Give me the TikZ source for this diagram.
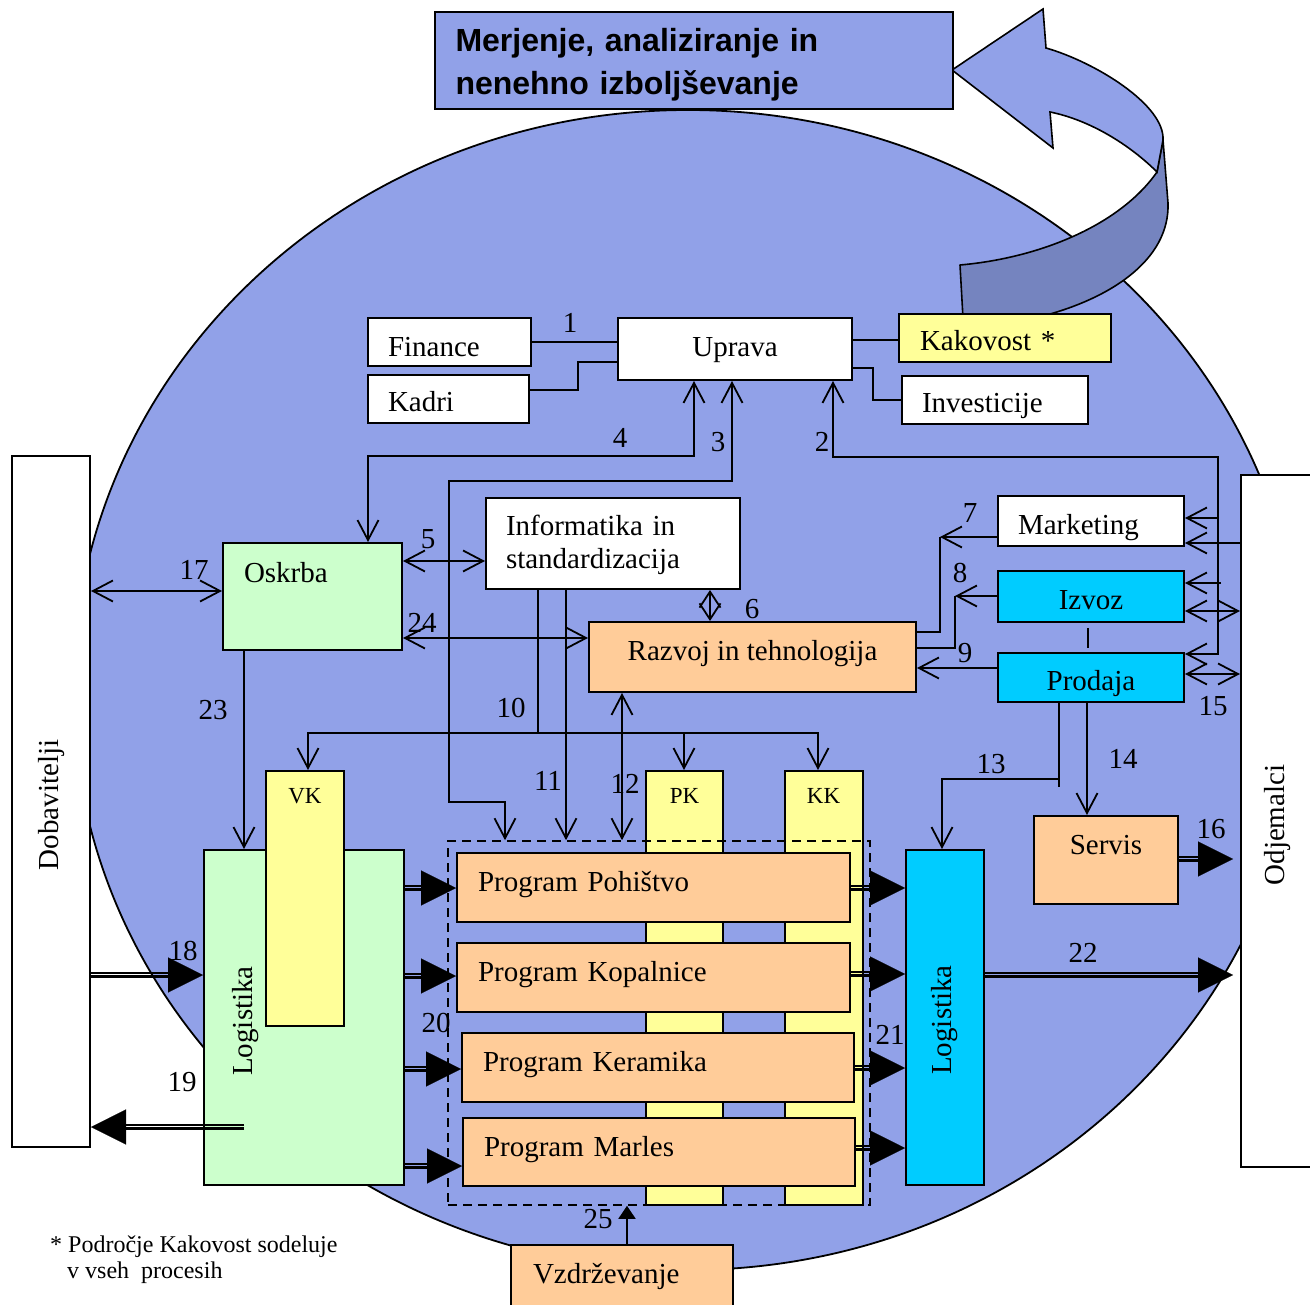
\documentclass[tikz,border=0pt]{standalone}
\usepackage{fontspec}
\setmainfont{Liberation Serif}
\setsansfont{Liberation Sans}
\usetikzlibrary{arrows.meta}
\definecolor{circ}{RGB}{145,161,232}
\definecolor{band}{RGB}{117,132,191}
\definecolor{yel}{RGB}{255,255,153}
\definecolor{grn}{RGB}{204,255,204}
\definecolor{org}{RGB}{255,204,153}
\definecolor{cyn}{RGB}{0,204,255}
\newcommand\mainsz{\fontsize{29}{33}\selectfont}
\newcommand\smallsz{\fontsize{23}{27}\selectfont}
\newcommand\notesz{\fontsize{24}{26}\selectfont}
\newcommand\titlesz{\sffamily\bfseries\fontsize{32}{43}\selectfont}
\newcommand\dblarr[2]{%
  \draw[dbltip] #1 -- #2;
  \begin{scope}[transform canvas={yshift=2.2pt}]\draw[dbll] #1 -- #2;\end{scope}
  \begin{scope}[transform canvas={yshift=-2.2pt}]\draw[dbll] #1 -- #2;\end{scope}}
\begin{document}
\begin{tikzpicture}[x=1pt,y=-1pt,
  box/.style={draw, line width=2pt, inner sep=0pt, font=\mainsz, text depth=0pt},
  lb/.style 2 args={text width=#1, inner xsep=#2, align=left},
  th/.style 2 args={text height=#1, text depth=#2},
  ln/.style={line width=1.8pt},
  arrE/.style={ln, -{Straight Barb[length=20pt,width=21pt]}},
  arrB/.style={ln, {Straight Barb[length=20pt,width=21pt]}-{Straight Barb[length=20pt,width=21pt]}},
  arrS/.style={ln, {Straight Barb[length=16pt,width=21pt]}-{Straight Barb[length=16pt,width=21pt]}},
  dbltip/.style={line width=0.1pt, -{Triangle[length=35pt,width=35pt]}},
  dbll/.style={line width=1.5pt, shorten >=25pt},
  num/.style={anchor=base, font=\mainsz, inner sep=0pt},
  rot/.style={rotate=90, anchor=base, font=\mainsz, inner sep=0pt},
  note/.style={anchor=base west, font=\notesz, inner sep=0pt}]
\useasboundingbox (0,0) rectangle (1310,1305);
\clip (0,0) rectangle (1310,1305);

% background circle
\draw[line width=1.8pt, fill=circ] (688,690) ellipse [x radius=615, y radius=580];

% curved arrow
\draw[line width=1.6pt, fill=band, line join=round] (960,265) .. controls (1040,258) and (1120,225) .. (1157,172) -- (1163,140) -- (1168,203) .. controls (1170,260) and (1110,300) .. (1035,318) -- (963,318) -- cycle;
\draw[line width=1.6pt, fill=circ, line join=miter] (952,70) -- (1043,9) -- (1046,48) .. controls (1095,62) and (1165,105) .. (1163,140) -- (1157,172) .. controls (1130,145) and (1090,120) .. (1050,112) -- (1053,148) -- cycle;

% title
\node[box, fill=circ, font=\titlesz, minimum height=97pt, lb={476pt}{21pt}, th={0pt}{17pt}] (Title) at (693.5,60.5) {Merjenje, analiziranje in\\nenehno izboljševanje};

% boxes
\node[box, fill=white, minimum height=48pt, lb={123pt}{20pt}, th={30pt}{0pt}] (Finance) at (449.5,342) {Finance};
\node[box, fill=white, minimum height=48pt, lb={121pt}{20pt}, th={26pt}{0pt}] (Kadri) at (448.5,399) {Kadri};
\node[box, fill=white, minimum width=234pt, minimum height=62pt, th={16pt}{0pt}] (Uprava) at (735,349) {Uprava};
\node[box, fill=yel, minimum height=48pt, lb={170pt}{21pt}, th={26pt}{0pt}] (Kakovost) at (1005,338) {Kakovost *};
\node[box, fill=white, minimum height=48pt, lb={146pt}{20pt}, th={26pt}{0pt}] (Investicije) at (995,400) {Investicije};
\node[box, fill=white, minimum height=91pt, lb={214pt}{20pt}, th={0pt}{15pt}] (Informatika) at (613,543.5) {Informatika in\\standardizacija};
\node[box, fill=grn, minimum height=107pt, lb={137pt}{21pt}, th={0pt}{29pt}] (Oskrba) at (312.5,596.5) {Oskrba};
\node[box, fill=org, minimum width=327pt, minimum height=70pt, th={6pt}{0pt}] (Razvoj) at (752.5,657) {Razvoj in tehnologija};
\node[box, fill=white, minimum height=50pt, lb={146pt}{20pt}, th={26pt}{0pt}] (Marketing) at (1091,521) {Marketing};
\node[box, fill=cyn, minimum width=186pt, minimum height=51pt, th={25pt}{0pt}] (Izvoz) at (1091,596.5) {Izvoz};
\node[box, fill=cyn, minimum width=186pt, minimum height=49pt, th={25pt}{0pt}] (Prodaja) at (1091,677.5) {Prodaja};
\node[box, fill=org, minimum width=144pt, minimum height=88pt, th={0pt}{11pt}] (Servis) at (1106,860) {Servis};
\node[box, fill=cyn, minimum width=78pt, minimum height=335pt] (LogR) at (945,1017.5) {};
\node[box, fill=grn, minimum width=200pt, minimum height=335pt] (LogL) at (304,1017.5) {};
\node[box, fill=yel, font=\smallsz, minimum width=78pt, minimum height=255pt, th={0pt}{191pt}] (VK) at (305,898.5) {VK};
\node[box, fill=yel, font=\smallsz, minimum width=77pt, minimum height=434pt, th={0pt}{370pt}] (PK) at (684.5,988) {PK};
\node[box, fill=yel, font=\smallsz, minimum width=78pt, minimum height=434pt, th={0pt}{370pt}] (KK) at (823.5,988) {KK};
\node[draw, line width=1.6pt, dash pattern=on 9pt off 6pt, minimum width=422pt, minimum height=364pt, inner sep=0pt] (Dashed) at (659,1023) {};
\node[box, fill=org, minimum height=69pt, lb={351pt}{21pt}, th={7pt}{0pt}] (Pohistvo) at (653.5,887.5) {Program Pohištvo};
\node[box, fill=org, minimum height=69pt, lb={351pt}{21pt}, th={7pt}{0pt}] (Kopalnice) at (653.5,977.5) {Program Kopalnice};
\node[box, fill=org, minimum height=69pt, lb={350pt}{21pt}, th={7pt}{0pt}] (Keramika) at (658,1067.5) {Program Keramika};
\node[box, fill=org, minimum height=68pt, lb={350pt}{21pt}, th={8pt}{0pt}] (Marles) at (659,1152) {Program Marles};
\node[box, fill=white, minimum width=78pt, minimum height=691pt] (Dobavitelji) at (51,801.5) {};
\node[box, fill=white, minimum width=100pt, minimum height=692pt] (Odjemalci) at (1291,821) {};
\node[box, fill=org, minimum height=70pt, lb={178pt}{22pt}, th={6pt}{0pt}] (Vzd) at (622,1280) {Vzdrževanje};

% rotated texts
\node[rot] (tDob) at (58,805) {Dobavitelji};
\node[rot] (tOdj) at (1284,825) {Odjemalci};
\node[rot] (tLogL) at (252,1021) {Logistika};
\node[rot] (tLogR) at (951,1020) {Logistika};

% coordinates
\coordinate (j2m) at (1218,518);
\coordinate (j2i) at (1221,583);
\coordinate (j7) at (940,537);
\coordinate (j8) at (955,596);
\coordinate (j10) at (538,733);
\coordinate (j10p) at (684,733);
\coordinate (j13) at (1059,779);
\coordinate (s19) at (244,1127);
\coordinate (e16) at (1233,859);
\coordinate (e22) at (1233,975);

% connectors around Uprava
\draw[ln] (Finance.east) -- (Finance.east -| Uprava.west);
\draw[ln] (Kadri.east |- 0,390) -- (578,390) -- (578,362) -- (Uprava.west |- 0,362);
\draw[ln] (Uprava.east |- 0,340) -- (Kakovost.west |- 0,340);
\draw[ln] (Uprava.east |- 0,368) -- (873,368) -- (873,400) -- (Investicije.west);
% 4
\draw[arrB] (368,0 |- Oskrba.north) -- (368,456) -- (694,456) -- (694,0 |- Uprava.south);
% 3
\draw[arrB] (732,0 |- Uprava.south) -- (732,481) -- (449,481) -- (449,802) -- (505,802) -- (505,0 |- Dashed.north);
% 2
\draw[arrB] (833,0 |- Uprava.south) -- (833,457) -- (1218,457) -- (1218,654) -- (Prodaja.east |- 0,654);
\draw[arrE] (j2m) -- (Marketing.east |- j2m);
\draw[arrE] (j2i) -- (Izvoz.east |- j2i);
% 15
\draw[arrE] (Odjemalci.west |- 0,543) -- (Marketing.east |- 0,543);
\draw[arrB] (Izvoz.east |- 0,611) -- (Odjemalci.west |- 0,611);
\draw[arrB] (Prodaja.east |- 0,674) -- (Odjemalci.west |- 0,674);
% 7
\draw[arrE] (Marketing.west |- j7) -- (j7);
\draw[ln] (j7) -- (940,632) -- (Razvoj.east |- 0,632);
% 8
\draw[arrE] (Izvoz.west |- j8) -- (j8);
\draw[ln] (j8) -- (955,648) -- (Razvoj.east |- 0,648);
% 9
\draw[arrE] (Prodaja.west |- 0,668) -- (Razvoj.east |- 0,668);
% Izvoz - Prodaja
\draw[ln, shorten <=5pt, shorten >=4pt] (1088,0 |- Izvoz.south) -- (1088,0 |- Prodaja.north);
% 5, 24, 6
\draw[arrB] (Oskrba.east |- 0,561) -- (Informatika.west |- 0,561);
\draw[arrB] (Oskrba.east |- 0,638) -- (Razvoj.west |- 0,638);
\draw[arrS] (710,0 |- Informatika.south) -- (710,0 |- Razvoj.north);
% 10
\draw[ln] (538,0 |- Informatika.south) -- (j10);
\draw[arrE] (j10) -- (308,733) -- (308,0 |- VK.north);
\draw[arrE] (j10) -- (818,733) -- (818,0 |- KK.north);
\draw[arrE] (j10p) -- (684,0 |- PK.north);
% 11, 12
\draw[arrE] (566,0 |- Informatika.south) -- (566,0 |- Dashed.north);
\draw[arrB] (622,0 |- Razvoj.south) -- (622,0 |- Dashed.north);
% 17, 23
\draw[arrB] (Dobavitelji.east |- 0,591) -- (Oskrba.west |- 0,591);
\draw[arrE] (244,0 |- Oskrba.south) -- (244,0 |- LogL.north);
% 13, 14
\draw[ln] (1059,0 |- Prodaja.south) -- (1059,787);
\draw[arrE] (j13) -- (942,779) -- (942,0 |- LogR.north);
\draw[arrE] (1087,0 |- Prodaja.south) -- (1087,0 |- Servis.north);
% double arrows
\dblarr{(Dobavitelji.east |- 0,975)}{(LogL.west |- 0,975)}
\dblarr{(s19)}{(Dobavitelji.east |- s19)}
\dblarr{(LogL.east |- 0,888)}{(Pohistvo.west |- 0,888)}
\dblarr{(LogL.east |- 0,976)}{(Kopalnice.west |- 0,976)}
\dblarr{(LogL.east |- 0,1069)}{(Keramika.west |- 0,1069)}
\dblarr{(LogL.east |- 0,1166)}{(Marles.west |- 0,1166)}
\dblarr{(Pohistvo.east |- 0,888)}{(LogR.west |- 0,888)}
\dblarr{(Kopalnice.east |- 0,974)}{(LogR.west |- 0,974)}
\dblarr{(Keramika.east |- 0,1068)}{(LogR.west |- 0,1068)}
\dblarr{(Marles.east |- 0,1148)}{(LogR.west |- 0,1148)}
\dblarr{(LogR.east |- e22)}{(e22)}
\dblarr{(Servis.east |- e16)}{(e16)}
% 25
\draw[ln, -{Triangle[length=13pt,width=17pt]}] (627,0 |- Vzd.north) -- (627,0 |- Dashed.south);

% numbers
\node[num] (n1) at (570,333) {1};
\node[num] (n2) at (822,452) {2};
\node[num] (n3) at (718,452) {3};
\node[num] (n4) at (620,448) {4};
\node[num] (n5) at (428,548) {5};
\node[num] (n6) at (752,618) {6};
\node[num] (n7) at (970,522) {7};
\node[num] (n8) at (960,582) {8};
\node[num] (n9) at (965,662) {9};
\node[num] (n10) at (511,717) {10};
\node[num] (n11) at (548,790) {11};
\node[num] (n12) at (625,793) {12};
\node[num] (n13) at (991,773) {13};
\node[num] (n14) at (1123,768) {14};
\node[num] (n15) at (1213,715) {15};
\node[num] (n16) at (1211,838) {16};
\node[num] (n17) at (194,579) {17};
\node[num] (n18) at (183,960) {18};
\node[num] (n19) at (182,1091) {19};
\node[num] (n20) at (436,1032) {20};
\node[num] (n21) at (890,1044) {21};
\node[num] (n22) at (1083,962) {22};
\node[num] (n23) at (213,719) {23};
\node[num] (n24) at (422,632) {24};
\node[num] (n25) at (598,1228) {25};

% footnote
\node[note] (fn1) at (50,1252) {* Področje Kakovost sodeluje};
\node[note] (fn2) at (67,1278) {v vseh\ \ procesih};
\end{tikzpicture}
\end{document}
